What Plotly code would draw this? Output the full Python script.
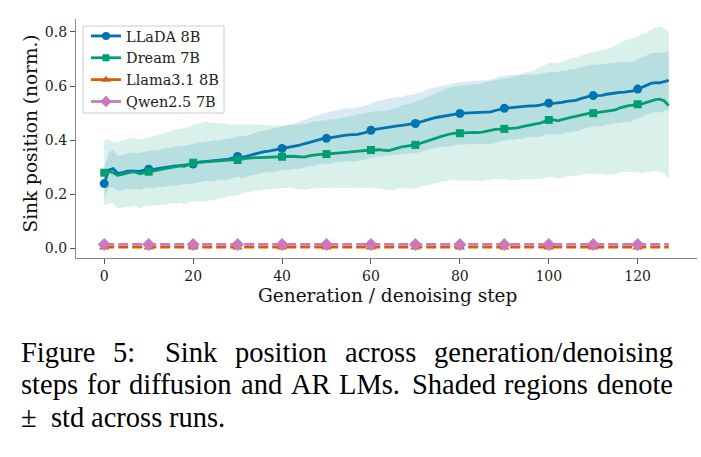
import plotly.graph_objects as go

W, H = 701, 457
L, R, T, B = 76, 4, 19, 199
PW, PH = W - L - R, H - T - B

steps = list(range(128))

llada_mean = [
    0.240, 0.290, 0.295, 0.278, 0.280, 0.285, 0.287, 0.286, 0.285, 0.290,
    0.293, 0.292, 0.295, 0.297, 0.300, 0.302, 0.305, 0.306, 0.308, 0.310,
    0.312, 0.318, 0.320, 0.322, 0.323, 0.325, 0.326, 0.328, 0.330, 0.335,
    0.340, 0.337, 0.340, 0.345, 0.350, 0.355, 0.358, 0.360, 0.363, 0.366,
    0.370, 0.372, 0.375, 0.378, 0.382, 0.387, 0.392, 0.397, 0.402, 0.405,
    0.407, 0.410, 0.414, 0.416, 0.418, 0.420, 0.420, 0.422, 0.425, 0.430,
    0.437, 0.440, 0.443, 0.446, 0.449, 0.451, 0.453, 0.455, 0.457, 0.459,
    0.462, 0.467, 0.472, 0.478, 0.482, 0.485, 0.488, 0.490, 0.493, 0.496,
    0.499, 0.500, 0.501, 0.502, 0.503, 0.503, 0.504, 0.505, 0.510, 0.515,
    0.518, 0.520, 0.522, 0.523, 0.524, 0.526, 0.527, 0.527, 0.530, 0.534,
    0.537, 0.536, 0.537, 0.540, 0.544, 0.546, 0.547, 0.553, 0.558, 0.562,
    0.565, 0.566, 0.566, 0.570, 0.573, 0.575, 0.577, 0.578, 0.579, 0.582,
    0.589, 0.597, 0.605, 0.610, 0.613, 0.612, 0.617, 0.621,
]

dream_mean = [
    0.280, 0.285, 0.280, 0.271, 0.274, 0.278, 0.282, 0.283, 0.276, 0.280,
    0.284, 0.287, 0.290, 0.293, 0.296, 0.300, 0.303, 0.305, 0.304, 0.310,
    0.317, 0.318, 0.320, 0.321, 0.322, 0.323, 0.324, 0.325, 0.326, 0.327,
    0.327, 0.330, 0.333, 0.335, 0.336, 0.336, 0.337, 0.337, 0.338, 0.338,
    0.339, 0.340, 0.341, 0.340, 0.339, 0.338, 0.342, 0.345, 0.347, 0.348,
    0.349, 0.350, 0.352, 0.353, 0.355, 0.356, 0.358, 0.360, 0.362, 0.363,
    0.364, 0.364, 0.365, 0.363, 0.362, 0.366, 0.372, 0.376, 0.378, 0.380,
    0.383, 0.388, 0.394, 0.398, 0.404, 0.410, 0.415, 0.420, 0.424, 0.426,
    0.426, 0.427, 0.428, 0.429, 0.428, 0.430, 0.434, 0.437, 0.440, 0.441,
    0.442, 0.442, 0.443, 0.446, 0.450, 0.453, 0.456, 0.459, 0.463, 0.469,
    0.475, 0.476, 0.472, 0.476, 0.481, 0.485, 0.488, 0.492, 0.496, 0.499,
    0.500, 0.502, 0.505, 0.506, 0.508, 0.512, 0.520, 0.525, 0.528, 0.530,
    0.533, 0.534, 0.540, 0.546, 0.550, 0.552, 0.545, 0.528,
]

llada_std = [
    0.060, 0.066, 0.069, 0.064, 0.066, 0.065, 0.068, 0.066, 0.069, 0.067,
    0.068, 0.070, 0.067, 0.071, 0.071, 0.069, 0.072, 0.072, 0.070, 0.073,
    0.072, 0.074, 0.074, 0.072, 0.075, 0.075, 0.073, 0.076, 0.076, 0.074,
    0.075, 0.077, 0.077, 0.075, 0.078, 0.079, 0.078, 0.077, 0.081, 0.080,
    0.080, 0.083, 0.083, 0.084, 0.087, 0.088, 0.088, 0.092, 0.092, 0.093,
    0.095, 0.097, 0.095, 0.098, 0.098, 0.097, 0.100, 0.099, 0.099, 0.101,
    0.101, 0.103, 0.102, 0.105, 0.105, 0.105, 0.107, 0.106, 0.109, 0.108,
    0.110, 0.111, 0.110, 0.113, 0.111, 0.114, 0.113, 0.113, 0.115, 0.114,
    0.115, 0.117, 0.115, 0.118, 0.116, 0.119, 0.117, 0.120, 0.118, 0.121,
    0.120, 0.118, 0.120, 0.117, 0.119, 0.116, 0.118, 0.115, 0.117, 0.114,
    0.115, 0.116, 0.115, 0.117, 0.114, 0.116, 0.115, 0.117, 0.114, 0.116,
    0.115, 0.113, 0.115, 0.112, 0.114, 0.111, 0.113, 0.110, 0.112, 0.109,
    0.110, 0.111, 0.108, 0.111, 0.109, 0.110, 0.108, 0.110,
]

dream_std = [
    0.120, 0.118, 0.112, 0.122, 0.124, 0.125, 0.127, 0.124, 0.128, 0.125,
    0.126, 0.129, 0.130, 0.130, 0.134, 0.133, 0.137, 0.136, 0.140, 0.139,
    0.141, 0.144, 0.145, 0.147, 0.143, 0.143, 0.138, 0.138, 0.133, 0.133,
    0.130, 0.129, 0.125, 0.125, 0.121, 0.122, 0.118, 0.119, 0.116, 0.117,
    0.115, 0.117, 0.116, 0.119, 0.119, 0.122, 0.121, 0.124, 0.123, 0.125,
    0.125, 0.127, 0.127, 0.130, 0.130, 0.133, 0.133, 0.136, 0.136, 0.139,
    0.140, 0.143, 0.143, 0.147, 0.147, 0.151, 0.150, 0.154, 0.154, 0.158,
    0.160, 0.162, 0.161, 0.165, 0.164, 0.168, 0.167, 0.171, 0.171, 0.174,
    0.175, 0.177, 0.176, 0.179, 0.178, 0.181, 0.180, 0.183, 0.182, 0.185,
    0.185, 0.189, 0.189, 0.194, 0.194, 0.198, 0.199, 0.203, 0.204, 0.208,
    0.210, 0.212, 0.212, 0.215, 0.215, 0.218, 0.218, 0.221, 0.221, 0.224,
    0.225, 0.228, 0.229, 0.233, 0.234, 0.238, 0.239, 0.243, 0.244, 0.248,
    0.250, 0.255, 0.257, 0.262, 0.264, 0.269, 0.269, 0.272,
]

llama_mean = [
    0.005, 0.005, 0.005, 0.005, 0.005, 0.005, 0.005, 0.005, 0.005, 0.005,
    0.005, 0.005, 0.005, 0.005, 0.005, 0.005, 0.005, 0.005, 0.005, 0.005,
    0.005, 0.005, 0.005, 0.005, 0.005, 0.005, 0.005, 0.005, 0.005, 0.005,
    0.005, 0.005, 0.005, 0.005, 0.005, 0.005, 0.005, 0.005, 0.005, 0.005,
    0.005, 0.005, 0.005, 0.005, 0.005, 0.005, 0.005, 0.005, 0.005, 0.005,
    0.005, 0.005, 0.005, 0.005, 0.005, 0.005, 0.005, 0.005, 0.005, 0.005,
    0.005, 0.005, 0.005, 0.005, 0.005, 0.005, 0.005, 0.005, 0.005, 0.005,
    0.005, 0.005, 0.005, 0.005, 0.005, 0.005, 0.005, 0.005, 0.005, 0.005,
    0.005, 0.005, 0.005, 0.005, 0.005, 0.005, 0.005, 0.005, 0.005, 0.005,
    0.005, 0.005, 0.005, 0.005, 0.005, 0.005, 0.005, 0.005, 0.005, 0.005,
    0.005, 0.005, 0.005, 0.005, 0.005, 0.005, 0.005, 0.005, 0.005, 0.005,
    0.005, 0.005, 0.005, 0.005, 0.005, 0.005, 0.005, 0.005, 0.005, 0.005,
    0.005, 0.005, 0.005, 0.005, 0.005, 0.005, 0.005, 0.005,
]

qwen_mean = [
    0.015, 0.015, 0.015, 0.015, 0.015, 0.015, 0.015, 0.015, 0.015, 0.015,
    0.015, 0.015, 0.015, 0.015, 0.015, 0.015, 0.015, 0.015, 0.015, 0.015,
    0.015, 0.015, 0.015, 0.015, 0.015, 0.015, 0.015, 0.015, 0.015, 0.015,
    0.015, 0.015, 0.015, 0.015, 0.015, 0.015, 0.015, 0.015, 0.015, 0.015,
    0.015, 0.015, 0.015, 0.015, 0.015, 0.015, 0.015, 0.015, 0.015, 0.015,
    0.015, 0.015, 0.015, 0.015, 0.015, 0.015, 0.015, 0.015, 0.015, 0.015,
    0.015, 0.015, 0.015, 0.015, 0.015, 0.015, 0.015, 0.015, 0.015, 0.015,
    0.015, 0.015, 0.015, 0.015, 0.015, 0.015, 0.015, 0.015, 0.015, 0.015,
    0.015, 0.015, 0.015, 0.015, 0.015, 0.015, 0.015, 0.015, 0.015, 0.015,
    0.015, 0.015, 0.015, 0.015, 0.015, 0.015, 0.015, 0.015, 0.015, 0.015,
    0.015, 0.015, 0.015, 0.015, 0.015, 0.015, 0.015, 0.015, 0.015, 0.015,
    0.015, 0.015, 0.015, 0.015, 0.015, 0.015, 0.015, 0.015, 0.015, 0.015,
    0.015, 0.015, 0.015, 0.015, 0.015, 0.015, 0.015, 0.015,
]

series_names = ["LLaDA 8B", "Dream 7B", "Llama3.1 8B", "Qwen2.5 7B"]
x_ticks = [0, 20, 40, 60, 80, 100, 120]
y_ticks = [0.0, 0.2, 0.4, 0.6, 0.8]
x_title = "Generation / denoising step"
y_title = "Sink position (norm.)"
caption_line1 = ["Figure", "5:", "Sink", "position", "across", "generation/denoising"]
caption_line2 = ["steps", "for", "diffusion", "and", "AR", "LMs.", "Shaded", "regions", "denote"]
caption_line3 = ["\u00b1", "std", "across", "runs."]

colors = ["#0173B2", "#029E73", "#D55E00", "#CC78BC"]
band_colors = ["rgba(1,115,178,0.15)", "rgba(2,158,115,0.15)"]
symbols = ["circle", "square", "triangle-up", "diamond"]
msizes = [9, 8, 9, 10]
dashes = ["solid", "solid", "10px,4px", "10px,4px"]

SERIF = "DejaVu Serif, Liberation Serif, serif"

fig = go.Figure()

# std bands
for mean, std, bc in [(llada_mean, llada_std, band_colors[0]), (dream_mean, dream_std, band_colors[1])]:
    upper = [m + s for m, s in zip(mean, std)]
    lower = [m - s for m, s in zip(mean, std)]
    fig.add_trace(go.Scatter(
        x=steps + steps[::-1], y=upper + lower[::-1], fill="toself",
        fillcolor=bc, line=dict(width=0), mode="lines",
        showlegend=False, hoverinfo="skip"))

all_means = [llada_mean, dream_mean, llama_mean, qwen_mean]
for i, (name, mean) in enumerate(zip(series_names, all_means)):
    fig.add_trace(go.Scatter(
        x=steps, y=mean, mode="lines",
        line=dict(color=colors[i], width=2.8, dash=dashes[i]),
        showlegend=False))
    fig.add_trace(go.Scatter(
        x=steps[::10], y=mean[::10], mode="markers",
        marker=dict(symbol=symbols[i], size=msizes[i], color=colors[i]),
        showlegend=False))
    fig.add_trace(go.Scatter(
        x=[None], y=[None], mode="lines+markers", name=name,
        line=dict(color=colors[i], width=2.8),
        marker=dict(symbol=symbols[i], size=msizes[i] - 1, color=colors[i])))


def px_x(px):
    return (px - L) / PW


def px_y(py):
    return (H - B - py) / PH


annotations = []
annotations.append(dict(text=x_title, x=px_x(387), y=px_y(295), xref="paper", yref="paper",
                        xanchor="center", yanchor="middle", showarrow=False,
                        font=dict(family=SERIF, size=18.5, color="#111")))
annotations.append(dict(text=y_title, x=px_x(29.5), y=px_y(134), xref="paper", yref="paper",
                        xanchor="center", yanchor="middle", showarrow=False, textangle=-90,
                        font=dict(family=SERIF, size=18.5, color="#111")))

# Times-Roman advance widths (per 1000 em) for justified caption layout
TW = {"F": 556, "i": 278, "g": 500, "u": 500, "r": 333, "e": 444, "5": 500, ":": 278,
      "S": 556, "n": 500, "k": 500, "p": 500, "o": 500, "s": 389, "t": 278, "a": 444,
      "c": 444, "/": 278, "d": 500, "f": 333, "A": 722, "R": 667, "L": 611, "M": 889,
      ".": 250, "h": 500, "\u00b1": 564}
CAP = 28.5
cap_font = dict(family="Liberation Serif", size=CAP, color="#000")


def wwidth(w):
    return sum(TW.get(ch, 500) for ch in w) / 1000 * CAP


def justified(words, left, right, weights):
    widths = [wwidth(w) for w in words]
    gap_unit = (right - left - sum(widths)) / sum(weights)
    xs, cur = [], left
    for k, wd in enumerate(widths):
        xs.append(cur)
        cur += wd + (gap_unit * weights[k] if k < len(weights) else 0)
    return xs


line1_x = justified(caption_line1, 20, 672, [1, 1.7, 1, 1, 1])
line2_x = justified(caption_line2, 20, 672, [1, 1, 1, 1, 1, 1.3, 1, 1])
sp = 0.25 * CAP
line3_x = [20, 20 + wwidth("\u00b1") + 1.9 * sp]
line3_x.append(line3_x[1] + wwidth("std") + sp)
line3_x.append(line3_x[2] + wwidth("across") + sp)

for words, xs, base in [(caption_line1, line1_x, 362), (caption_line2, line2_x, 394.5),
                        (caption_line3, line3_x, 427)]:
    for wd, xp in zip(words, xs):
        annotations.append(dict(text=wd, x=px_x(xp), y=px_y(base - 10), xref="paper", yref="paper",
                                xanchor="left", yanchor="middle",
                                showarrow=False, borderpad=0, font=cap_font))

axis_common = dict(showline=True, linecolor="#8a8a8a", linewidth=1.3, ticks="outside",
                   ticklen=5, tickwidth=1.2, tickcolor="#555", showgrid=False, zeroline=False,
                   tickfont=dict(family=SERIF, size=14, color="#222"), mirror=False)

# legend frame
shapes = [dict(type="rect", xref="paper", yref="paper",
               x0=px_x(83), x1=px_x(224), y0=px_y(113), y1=px_y(26),
               fillcolor="rgba(255,255,255,0.85)", line=dict(color="#cccccc", width=1),
               layer="above")]

fig.update_layout(
    width=W, height=H, margin=dict(l=L, r=R, t=T, b=B),
    paper_bgcolor="white", plot_bgcolor="white",
    xaxis=dict(range=[-6.35, 133.35], tickvals=x_ticks, **axis_common),
    yaxis=dict(range=[-0.035, 0.848], tickvals=y_ticks, tickformat=".1f", **axis_common),
    legend=dict(x=px_x(86), y=px_y(20), xanchor="left", yanchor="top",
                bgcolor="rgba(0,0,0,0)", borderwidth=0,
                font=dict(family=SERIF, size=14.5, color="#222"), itemwidth=30,
                tracegroupgap=0),
    shapes=shapes,
    annotations=annotations,
    showlegend=True,
)

fig.write_html("out.html")
